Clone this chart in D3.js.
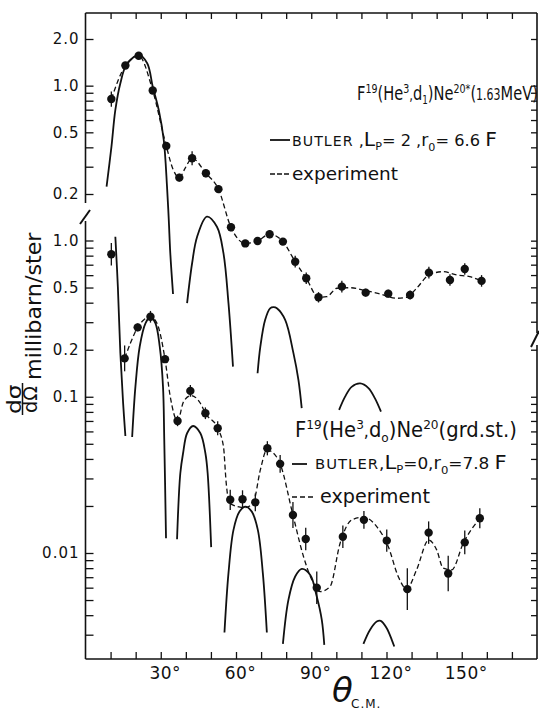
<!DOCTYPE html>
<html><head><meta charset="utf-8">
<script src="https://cdn.jsdelivr.net/npm/d3@7"></script>
<style>
html,body{margin:0;padding:0;background:#fff;}
svg{display:block;}
text{font-family:"DejaVu Sans",sans-serif;fill:#111;}
</style></head><body>
<svg id="chart" width="539" height="710"></svg>
<script>
// ---------- DATA ----------
// x ticks (degrees)
const xTicks = [10,20,30,40,50,60,70,80,90,100,110,120,130,140,150,160,170];
const xLabels = [30,60,90,120,150];
// y ticks
const upperLeftTicks = [2,1,0.9,0.8,0.7,0.6,0.5,0.4,0.3,0.2];
const upperLabels = [2,1,0.5,0.2];
const lowerLeftTicks = [1,0.9,0.8,0.7,0.6,0.5,0.4,0.3,0.2,0.1,0.09,0.08,0.07,0.06,0.05,0.04,0.03,0.02,0.01,0.009,0.008,0.007,0.006,0.005,0.004,0.003];
const lowerLabels = [1,0.5,0.2,0.1,0.01];
const rightUpperTicks = [2,1,0.9,0.8,0.7,0.6,0.5,0.4,0.3,0.2,0.1,0.09,0.08,0.07,0.06,0.05,0.04,0.03];
const rightLowerTicks = [0.2,0.1,0.09,0.08,0.07,0.06,0.05,0.04,0.03,0.02,0.01,0.009,0.008,0.007,0.006,0.005,0.004,0.003];

// F19(He3,d1)Ne20* (1.63 MeV) experiment
const upperTheta = [10.3,15.9,21.2,26.8,32.2,37.4,42.5,48.0,53.0,58.0,63.7,68.6,73.4,78.7,83.6,88.0,92.9,102.2,111.7,120.7,129.4,136.9,145.3,151.2,157.9];
const upperValue = [0.82,1.35,1.56,0.93,0.408,0.255,0.34,0.272,0.215,0.122,0.096,0.0995,0.110,0.0986,0.0732,0.0572,0.0431,0.0505,0.0462,0.0455,0.0446,0.0622,0.0558,0.0657,0.055];
const upperErr = [0.12,0.05,0.05,0.05,0.05,0.06,0.11,0.06,0.06,0.06,0.05,0.05,0.06,0.05,0.09,0.09,0.08,0.09,0.06,0.06,0.07,0.09,0.09,0.09,0.09];
// dashed experimental curve (upper)
const upperFitTheta = [10.3,15.9,21.2,26.8,32.2,35.0,37.4,39.8,42.5,48.0,53.0,58.0,63.7,68.6,73.4,78.7,83.6,88.0,92.9,96.2,100.2,105.5,111.7,117.4,124.1,128.0,132.0,136.9,142.6,147.9,153.2,157.9];
const upperFitValue = [0.82,1.35,1.56,0.93,0.408,0.286,0.255,0.295,0.34,0.272,0.215,0.122,0.096,0.0995,0.110,0.0986,0.0732,0.0572,0.0431,0.0435,0.0493,0.0497,0.0476,0.0453,0.0425,0.0431,0.0493,0.0601,0.0631,0.0601,0.0586,0.055];
// Butler L=2 lobes [theta, value]
const butlerL2 = [
  [[8.4,0.223],[10.35,0.404],[11.9,0.697],[13.9,1.036],[16.3,1.36],[21.2,1.578],[24.6,1.395],[26.8,0.985],[29.2,0.697],[31.2,0.446],[32.5,0.223],[33.2,0.136],[33.8,0.0833],[34.9,0.0453]],
  [[40.5,0.0395],[42.5,0.0715],[44.5,0.106],[48.4,0.143],[52.4,0.123],[55.0,0.083],[57.0,0.0395],[58.8,0.0154]],
  [[68.6,0.01395],[69.7,0.0207],[71.6,0.0308],[73.6,0.0366],[75.0,0.0372],[76.3,0.0366],[79.6,0.0308],[82.9,0.0188],[84.9,0.0126],[86.2,0.0083]],
  [[101.1,0.00809],[103.5,0.00985],[106.1,0.0114],[109.5,0.0120],[112.8,0.0112],[115.4,0.0096],[117.8,0.00788]]
];

// F19(He3,d0)Ne20 (grd. st.) experiment
const lowerTheta = [10.3,15.6,20.8,25.9,31.7,36.7,41.8,47.8,52.7,57.7,62.6,67.7,72.5,77.6,82.7,87.8,92.2,102.6,111.0,120.1,128.3,136.8,144.6,151.2,157.2];
const lowerValue = [0.816,0.176,0.278,0.325,0.174,0.070,0.109,0.0784,0.0629,0.0219,0.0221,0.0211,0.0468,0.0372,0.0175,0.0123,0.0060,0.0127,0.0163,0.0120,0.00587,0.0135,0.0074,0.0117,0.0167];
const lowerErr = [0.18,0.21,0.06,0.09,0.06,0.08,0.09,0.09,0.11,0.16,0.14,0.14,0.11,0.14,0.21,0.18,0.27,0.18,0.14,0.18,0.36,0.18,0.30,0.19,0.16];
const lowerFitTheta = [15.6,17.9,20.8,23.2,25.9,28.5,31.7,33.8,36.7,39.1,42.1,45.8,47.8,52.7,55.0,56.1,57.4,63.7,67.0,69.7,72.3,74.4,77.6,82.7,86.9,90.9,93.5,97.5,101.5,106.2,111.0,116.1,120.7,124.7,128.0,132.0,136.8,140.0,142.6,146.0,150.6,157.2];
const lowerFitValue = [0.176,0.22,0.278,0.31,0.325,0.295,0.174,0.1,0.070,0.093,0.1017,0.0909,0.0784,0.0629,0.048,0.028,0.0208,0.0195,0.0213,0.034,0.0457,0.0443,0.0372,0.0175,0.0095,0.0064,0.00566,0.0061,0.01155,0.0163,0.01695,0.01475,0.011,0.00706,0.00589,0.0078,0.0121,0.01047,0.008,0.0078,0.01155,0.0167];
// Butler L=0 lobes
const butlerL0 = [
  [[11.9,1.057],[12.9,0.506],[13.9,0.19],[15.0,0.0909],[15.9,0.0561]],
  [[18.6,0.0553],[19.9,0.116],[21.6,0.209],[23.9,0.295],[25.9,0.325],[27.9,0.295],[29.6,0.209],[30.9,0.116],[31.4,0.0529],[32.1,0.01244]],
  [[36.5,0.01226],[37.8,0.0324],[38.9,0.0435],[40.5,0.0584],[42.9,0.065],[45.8,0.0584],[47.8,0.0435],[48.7,0.0324],[50.1,0.0109]],
  [[55.4,0.0031],[57.0,0.00743],[59.0,0.01406],[61.4,0.0184],[63.7,0.0198],[66.3,0.0184],[68.7,0.01406],[70.7,0.00743],[72.3,0.0031]],
  [[78.7,0.00262],[80.9,0.00501],[83.6,0.00707],[86.2,0.00791],[89.6,0.00724],[92.2,0.00526],[94.2,0.00373],[95.2,0.00258]],
  [[110.8,0.00262],[113.4,0.00322],[116.1,0.00364],[117.7,0.00368],[120.1,0.0033],[122.1,0.00278],[123.1,0.00252]]
];

// ---------- LAYOUT ----------
const svg = d3.select("#chart");
const L = 85.5, R = 537, T = 13, B = 659;
const ink = "#111";
const x = d3.scaleLinear().domain([0,180]).range([L, R]);
const yU = d3.scaleLog().domain([0.2, 2]).range([194, 39]);
const yL = d3.scaleLog().domain([0.01, 1]).range([553, 240.5]);

function styleAxis(g){
  g.select(".domain").remove();
  g.selectAll(".tick line").attr("stroke", ink).attr("stroke-width", 1.3);
  g.selectAll(".tick text").attr("font-family","DejaVu Sans").attr("fill", "#1a1a1a");
}

// bottom axis
svg.append("g").attr("transform",`translate(0,${B})`)
  .call(d3.axisBottom(x).tickValues(xTicks).tickSizeInner(-7).tickSizeOuter(0).tickPadding(8)
        .tickFormat(d => xLabels.includes(d) ? d + "°" : ""))
  .call(styleAxis)
  .call(g => g.selectAll(".tick text").attr("font-size", 17).attr("dx", 4).attr("letter-spacing", 0.5));
// top axis
svg.append("g").attr("transform",`translate(0,${T})`)
  .call(d3.axisTop(x).tickValues(xTicks).tickSizeInner(-6).tickSizeOuter(0).tickFormat(""))
  .call(styleAxis);

const fmtY = d => d === 0.01 ? "0.01" : d3.format(".1f")(d);
// left axes
svg.append("g").attr("transform",`translate(${L},0)`)
  .call(d3.axisLeft(yU).tickValues(upperLeftTicks).tickSizeInner(-8).tickSizeOuter(0).tickPadding(6)
        .tickFormat(d => upperLabels.includes(d) ? fmtY(d) : ""))
  .call(styleAxis)
  .call(g => g.selectAll(".tick text").attr("font-size", 15).attr("letter-spacing", 1));
svg.append("g").attr("transform",`translate(${L},0)`)
  .call(d3.axisLeft(yL).tickValues(lowerLeftTicks).tickSizeInner(-8).tickSizeOuter(0).tickPadding(6)
        .tickFormat(d => lowerLabels.includes(d) ? fmtY(d) : ""))
  .call(styleAxis)
  .call(g => g.selectAll(".tick text").attr("font-size", 15).attr("letter-spacing", 1));
// right axes
svg.append("g").attr("transform",`translate(${R},0)`)
  .call(d3.axisRight(yU).tickValues(rightUpperTicks).tickSizeInner(-6).tickSizeOuter(0).tickFormat(""))
  .call(styleAxis);
svg.append("g").attr("transform",`translate(${R},0)`)
  .call(d3.axisRight(yL).tickValues(rightLowerTicks).tickSizeInner(-6).tickSizeOuter(0).tickFormat(""))
  .call(styleAxis);

// frame with breaks
const frame = [
  [[L,T],[R,T]], [[L,B],[R,B]],
  [[L,T],[L,203]], [[L,221],[L,B]],
  [[R,T],[R,333]], [[R,345],[R,B]]
];
frame.forEach(s => svg.append("line").attr("x1",s[0][0]).attr("y1",s[0][1]).attr("x2",s[1][0]).attr("y2",s[1][1])
  .attr("stroke", ink).attr("stroke-width", 1.6));
// break marks
svg.append("line").attr("x1",80).attr("y1",224).attr("x2",90).attr("y2",210).attr("stroke",ink).attr("stroke-width",2);
svg.append("line").attr("x1",531).attr("y1",347).attr("x2",539).attr("y2",331).attr("stroke",ink).attr("stroke-width",2);

// ---------- MARKS ----------
const lineU = d3.line().x(d => x(d[0])).y(d => yU(d[1])).curve(d3.curveCatmullRom.alpha(0.5));
const lineL = d3.line().x(d => x(d[0])).y(d => yL(d[1])).curve(d3.curveCatmullRom.alpha(0.5));
const fitU = d3.line().x(d => x(d[0])).y(d => yU(d[1])).curve(d3.curveMonotoneX);
const fitL = d3.line().x(d => x(d[0])).y(d => yL(d[1])).curve(d3.curveMonotoneX);

butlerL2.forEach(lobe => svg.append("path").attr("d", lineU(lobe)).attr("fill","none").attr("stroke",ink).attr("stroke-width",1.8));
butlerL0.forEach(lobe => svg.append("path").attr("d", lineL(lobe)).attr("fill","none").attr("stroke",ink).attr("stroke-width",1.8));

svg.append("path").attr("d", fitU(upperFitTheta.map((t,i)=>[t, upperFitValue[i]])))
  .attr("fill","none").attr("stroke",ink).attr("stroke-width",1.3).attr("stroke-dasharray","5,3");
svg.append("path").attr("d", fitL(lowerFitTheta.map((t,i)=>[t, lowerFitValue[i]])))
  .attr("fill","none").attr("stroke",ink).attr("stroke-width",1.3).attr("stroke-dasharray","5,3");

function points(thetas, vals, errs, ys){
  const g = svg.append("g");
  thetas.forEach((t,i) => {
    const v = vals[i], e = errs[i];
    g.append("line").attr("x1",x(t)).attr("x2",x(t)).attr("y1",ys(v*(1+e))).attr("y2",ys(v/(1+e)))
      .attr("stroke",ink).attr("stroke-width",1.3);
    g.append("circle").attr("cx",x(t)).attr("cy",ys(v)).attr("r",4.2).attr("fill",ink);
  });
}
points(upperTheta, upperValue, upperErr, yU);
points(lowerTheta, lowerValue, lowerErr, yL);

// ---------- TEXT ----------
function rich(x0, y0, segs, targetW){
  const g = svg.append("g");
  const t = g.append("text").attr("x",0).attr("y",0);
  let cur = 0;
  segs.forEach(s => {
    const sh = s.sh || 0;
    const ts = t.append("tspan").text(s.t).attr("font-size", s.s);
    const dy = -(sh - cur);
    if (dy) ts.attr("dy", dy);
    if (s.dx) ts.attr("dx", s.dx);
    if (s.ls) ts.attr("letter-spacing", s.ls);
    cur = sh;
  });
  const bb = t.node().getBBox();
  const k = targetW ? targetW / bb.width : 1;
  g.attr("transform", `translate(${x0 - bb.x*k},${y0}) scale(${k},1)`);
  return g;
}

// upper legend
rich(357, 100, [
  {t:"F", s:20}, {t:"19", s:13, sh:7}, {t:"(He", s:20}, {t:"3", s:13, sh:7},
  {t:",", s:16}, {t:"d", s:20}, {t:"1", s:12, sh:-4}, {t:")Ne", s:20},
  {t:"20*", s:13, sh:7}, {t:"(", s:20}, {t:"1.63", s:15}, {t:"MeV)", s:20}
], 181);
svg.append("line").attr("x1",270).attr("x2",290).attr("y1",140).attr("y2",140).attr("stroke",ink).attr("stroke-width",1.8);
rich(292, 146, [
  {t:"BUTLER", s:14, ls:1}, {t:" ,", s:16}, {t:"L", s:20}, {t:"P", s:11, sh:-4},
  {t:"= 2 ,", s:16}, {t:"r", s:17}, {t:"0", s:11, sh:-5}, {t:"= 6.6  ", s:16}, {t:"F", s:20}
], 205);
svg.append("line").attr("x1",270).attr("x2",291).attr("y1",174).attr("y2",174).attr("stroke",ink).attr("stroke-width",1.3).attr("stroke-dasharray","5,2");
rich(292, 180, [{t:"experiment", s:18}], 106);

// lower legend
rich(295, 437, [
  {t:"F", s:21}, {t:"19", s:13, sh:8}, {t:"(He", s:21}, {t:"3", s:13, sh:8},
  {t:",", s:17}, {t:"d", s:21}, {t:"o", s:13, sh:-5}, {t:")Ne", s:21},
  {t:"20", s:13, sh:8}, {t:"(grd.st.)", s:21}
], 222);
svg.append("line").attr("x1",292).attr("x2",307).attr("y1",464).attr("y2",464).attr("stroke",ink).attr("stroke-width",1.8);
rich(315, 469, [
  {t:"BUTLER", s:14, ls:1}, {t:",", s:16}, {t:"L", s:20}, {t:"P", s:11, sh:-4},
  {t:"=0,", s:16}, {t:"r", s:17}, {t:"0", s:11, sh:-5}, {t:"=7.8  ", s:16}, {t:"F", s:20}
], 192);
svg.append("line").attr("x1",292).attr("x2",314).attr("y1",497).attr("y2",497).attr("stroke",ink).attr("stroke-width",1.3).attr("stroke-dasharray","5,3");
rich(320, 503, [{t:"experiment", s:19}], 110);

// y-axis label (rotated)
{
  const g = svg.append("g").attr("transform","translate(41,380) rotate(-90)");
  const t = g.append("text").attr("font-size",21).text("millibarn/ster");
  const bb = t.node().getBBox();
  t.attr("transform", `scale(${148/bb.width},1)`);
  const f = svg.append("g").attr("transform","translate(22.5,399) rotate(-90)");
  const num = f.append("text").attr("y",-2).attr("font-size",20).text("dσ");
  const nb = num.node().getBBox();
  num.attr("transform", `translate(${-15},0) scale(${30/nb.width},1) translate(${-nb.x},0)`);
  f.append("line").attr("x1",-16).attr("x2",16).attr("y1",0).attr("y2",0).attr("stroke",ink).attr("stroke-width",1.5);
  const den = f.append("text").attr("y",14.5).attr("font-size",19).text("dΩ");
  const db = den.node().getBBox();
  den.attr("transform", `translate(${-14},0) scale(${27/db.width},1) translate(${-db.x},0)`);
}

// x-axis label
svg.append("text").attr("x",332).attr("y",702).attr("font-family","Liberation Serif").attr("font-style","italic")
  .attr("font-size",34).text("θ");
svg.append("text").attr("x",351).attr("y",708).attr("font-size",12).attr("letter-spacing",1).text("C.M.");
</script>
</body></html>
